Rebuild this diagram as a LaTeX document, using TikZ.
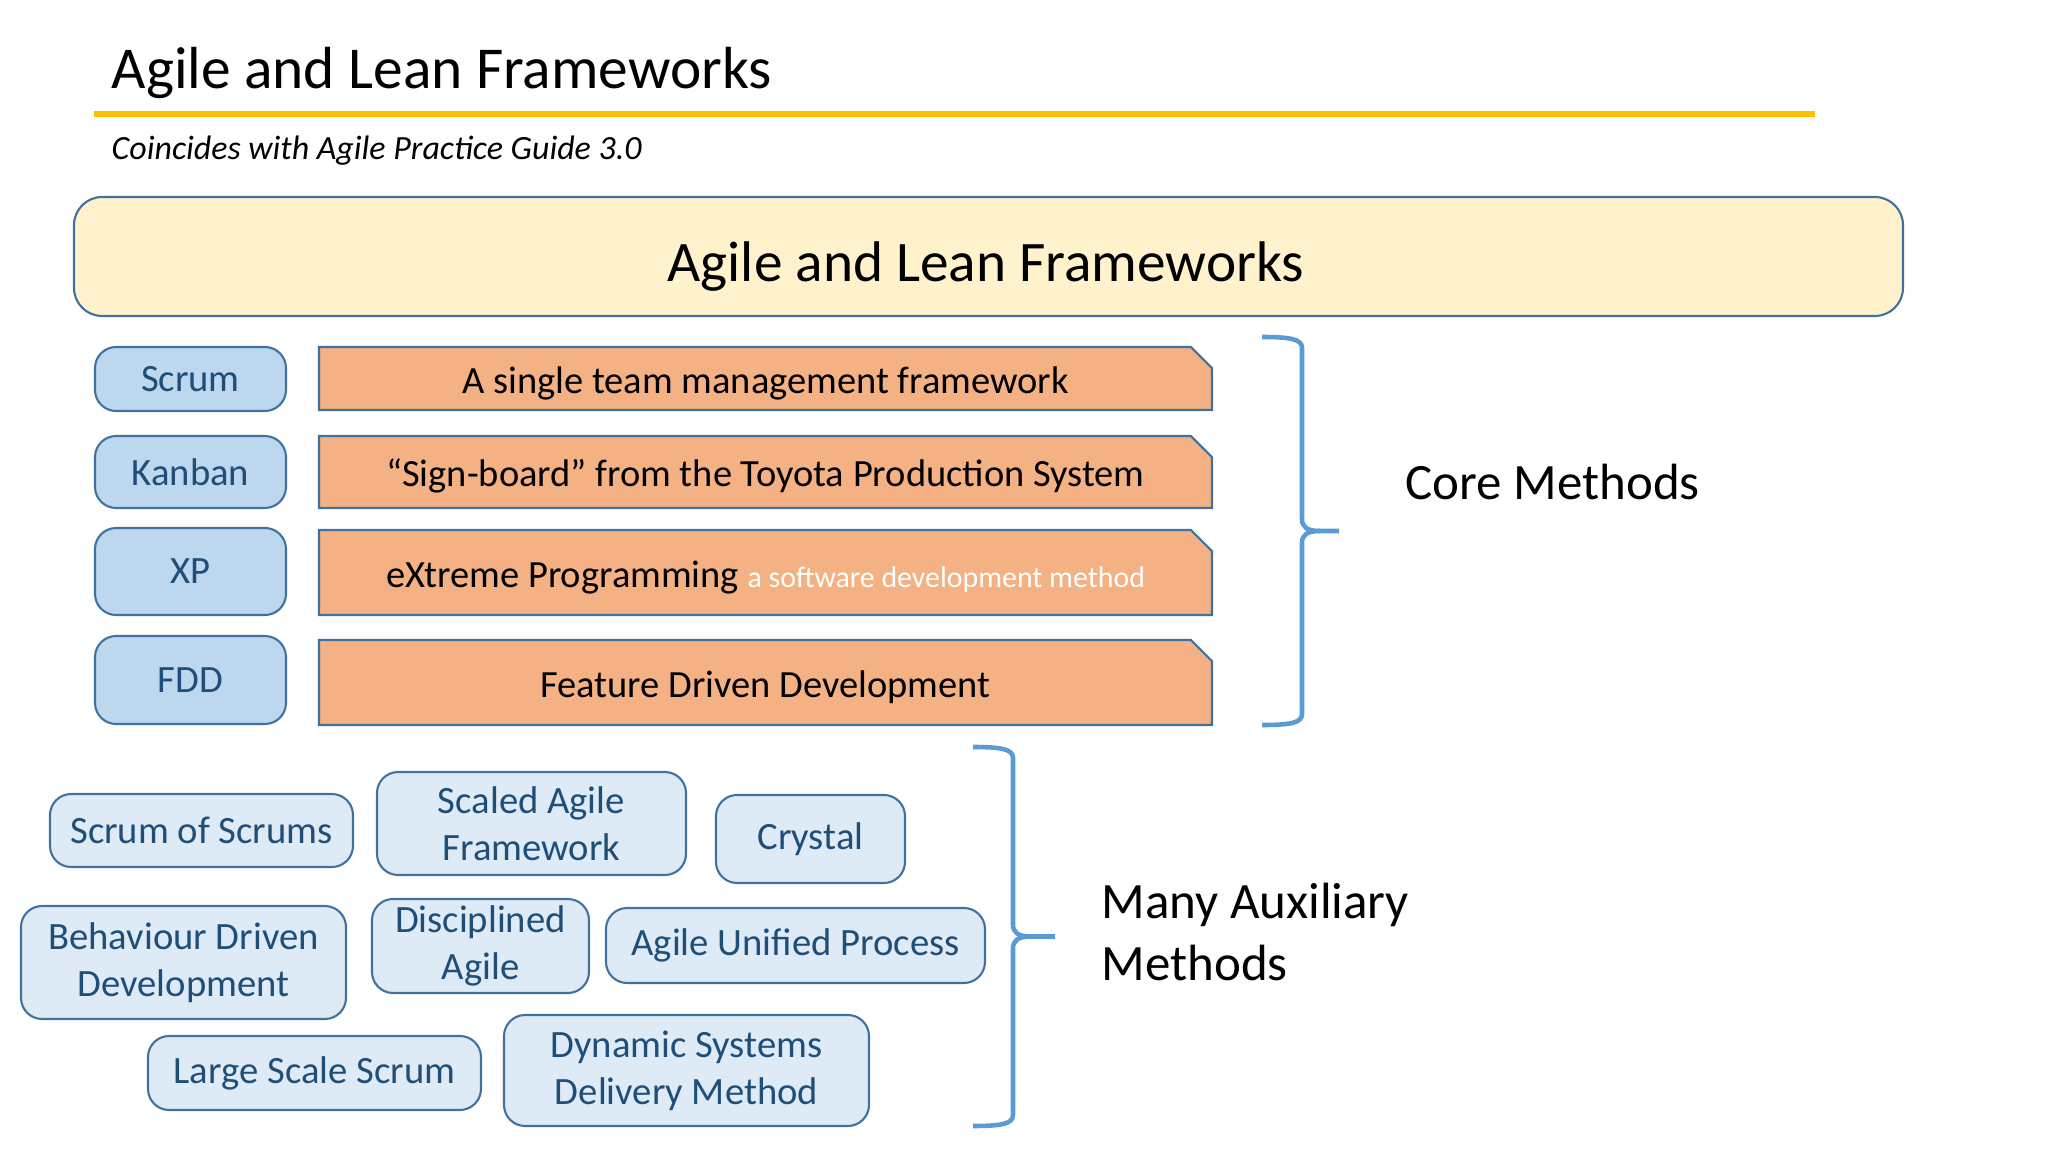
\documentclass[tikz,border=0pt]{standalone}
\usepackage{fontspec}
\setmainfont{Carlito}
\usepackage{xcolor}
\usetikzlibrary{shapes.misc}

\definecolor{rulegold}{HTML}{FFC000}
\definecolor{boxedge}{HTML}{41719C}
\definecolor{paleyellow}{HTML}{FFF2CC}
\definecolor{coreblue}{HTML}{BDD7EE}
\definecolor{auxblue}{HTML}{DEEBF7}
\definecolor{noteorange}{HTML}{F4B183}
\definecolor{bracecol}{HTML}{5B9BD5}
\definecolor{darkbluetext}{HTML}{1F4E79}

\begin{document}
\begin{tikzpicture}[
        core/.style = {draw=boxedge, fill=coreblue, rounded corners=6pt, line width=0.6pt,
            text=darkbluetext, font=\fontsize{11}{13}\selectfont, inner sep=0pt},
        note/.style = {draw=boxedge, fill=noteorange, line width=0.6pt, chamfered rectangle,
            chamfered rectangle corners=north east, chamfered rectangle xsep=1mm,
            font=\fontsize{10.95}{13}\selectfont, inner sep=0pt, minimum width=8.93cm,
            text height=8.5pt, text depth=0pt},
        aux/.style = {draw=boxedge, fill=auxblue, rounded corners=6pt, line width=0.6pt,
            text=darkbluetext, font=\fontsize{11}{13.4}\selectfont, align=center, inner sep=0pt},
        curly/.style = {draw=bracecol, line width=1.3pt}
    ]
        \useasboundingbox (0,0) rectangle (20.48,-11.52);

        % heading
        \node[anchor=base west, inner sep=0pt, font=\fontsize{16.9}{20}\selectfont] (title) at (1.11,-0.89) {Agile and Lean Frameworks};
        \draw[rulegold, line width=1.5pt] (0.94,-1.14) -- (18.15,-1.14);
        \node[anchor=base west, inner sep=0pt, font=\fontsize{9.65}{11}\selectfont\itshape] (subtitle) at (1.11,-1.60) {Coincides with Agile Practice Guide 3.0};

        \node[draw=boxedge, fill=paleyellow, line width=0.6pt, rounded corners=8pt, minimum width=18.29cm,
            minimum height=1.19cm] (frame) at (9.885,-2.565) {};
        \node[anchor=base, inner sep=0pt, font=\fontsize{16.3}{19}\selectfont] (frametext) at (9.86,-2.82) {Agile and Lean Frameworks};

        % core methods
        \node[core, minimum width=1.91cm, minimum height=0.64cm] (scrum) at (1.905,-3.79) {Scrum};
        \node[core, minimum width=1.91cm, minimum height=0.72cm] (kanban) at (1.905,-4.72) {Kanban};
        \node[core, minimum width=1.91cm, minimum height=0.87cm] (xp) at (1.905,-5.715) {XP};
        \node[core, minimum width=1.91cm, minimum height=0.88cm] (fdd) at (1.905,-6.80) {FDD};

        \node[note, minimum height=0.63cm] (scrumnote) at (7.655,-3.785) {A single team management framework};
        \node[note, minimum height=0.72cm] (kanbannote) at (7.655,-4.72) {“Sign-board” from the Toyota Production System};
        \node[note, minimum height=0.85cm] (xpnote) at (7.655,-5.725) {eXtreme Programming {\color{white}\fontsize{8.5}{10}\selectfont a software development method}};
        \node[note, minimum height=0.85cm] (fddnote) at (7.655,-6.825) {Feature Driven Development};

        \coordinate (coretop) at (12.62,-3.37);
        \coordinate (coretip) at (13.39,-5.31);
        \coordinate (corebot) at (12.62,-7.25);
        \draw[curly] (coretop) .. controls (12.9,-3.37) and (13.02,-3.39) .. (13.02,-3.48)
            -- (13.02,-5.19) .. controls (13.02,-5.27) and (13.07,-5.31) .. (13.2,-5.31) -- (coretip);
        \draw[curly] (13.2,-5.31) .. controls (13.07,-5.31) and (13.02,-5.35) .. (13.02,-5.43)
            -- (13.02,-7.14) .. controls (13.02,-7.23) and (12.9,-7.25) .. (corebot);
        \node[anchor=base west, inner sep=0pt, font=\fontsize{14.5}{17}\selectfont] (corelabel) at (14.05,-5.00) {Core Methods};

        % auxiliary methods
        \node[aux, minimum width=3.03cm, minimum height=0.73cm] (sos) at (2.015,-8.305) {Scrum of Scrums};
        \node[aux, minimum width=3.09cm, minimum height=1.03cm] (safe) at (5.315,-8.235) {Scaled Agile\\Framework};
        \node[aux, minimum width=1.89cm, minimum height=0.88cm] (crystal) at (8.105,-8.39) {Crystal};
        \node[aux, minimum width=3.25cm, minimum height=1.13cm] (bdd) at (1.835,-9.625) {Behaviour Driven\\Development};
        \node[aux, minimum width=2.17cm, minimum height=0.94cm] (da) at (4.805,-9.46) {Disciplined\\Agile};
        \node[aux, minimum width=3.79cm, minimum height=0.75cm] (aup) at (7.955,-9.455) {Agile Unified Process};
        \node[aux, minimum width=3.33cm, minimum height=0.74cm] (less) at (3.145,-10.73) {Large Scale Scrum};
        \node[aux, minimum width=3.65cm, minimum height=1.11cm] (dsdm) at (6.865,-10.705) {Dynamic Systems\\Delivery Method};

        \coordinate (auxtop) at (9.73,-7.47);
        \coordinate (auxtip) at (10.55,-9.365);
        \coordinate (auxbot) at (9.73,-11.26);
        \draw[curly] (auxtop) .. controls (10.01,-7.47) and (10.13,-7.49) .. (10.13,-7.58)
            -- (10.13,-9.245) .. controls (10.13,-9.325) and (10.18,-9.365) .. (10.31,-9.365) -- (auxtip);
        \draw[curly] (10.31,-9.365) .. controls (10.18,-9.365) and (10.13,-9.405) .. (10.13,-9.485)
            -- (10.13,-11.15) .. controls (10.13,-11.24) and (10.01,-11.26) .. (auxbot);
        \node[anchor=west, inner sep=0pt, align=left, font=\fontsize{14.5}{17.4}\selectfont] (auxlabel) at (11.01,-9.32) {Many Auxiliary\\Methods};
    \end{tikzpicture}
\end{document}
